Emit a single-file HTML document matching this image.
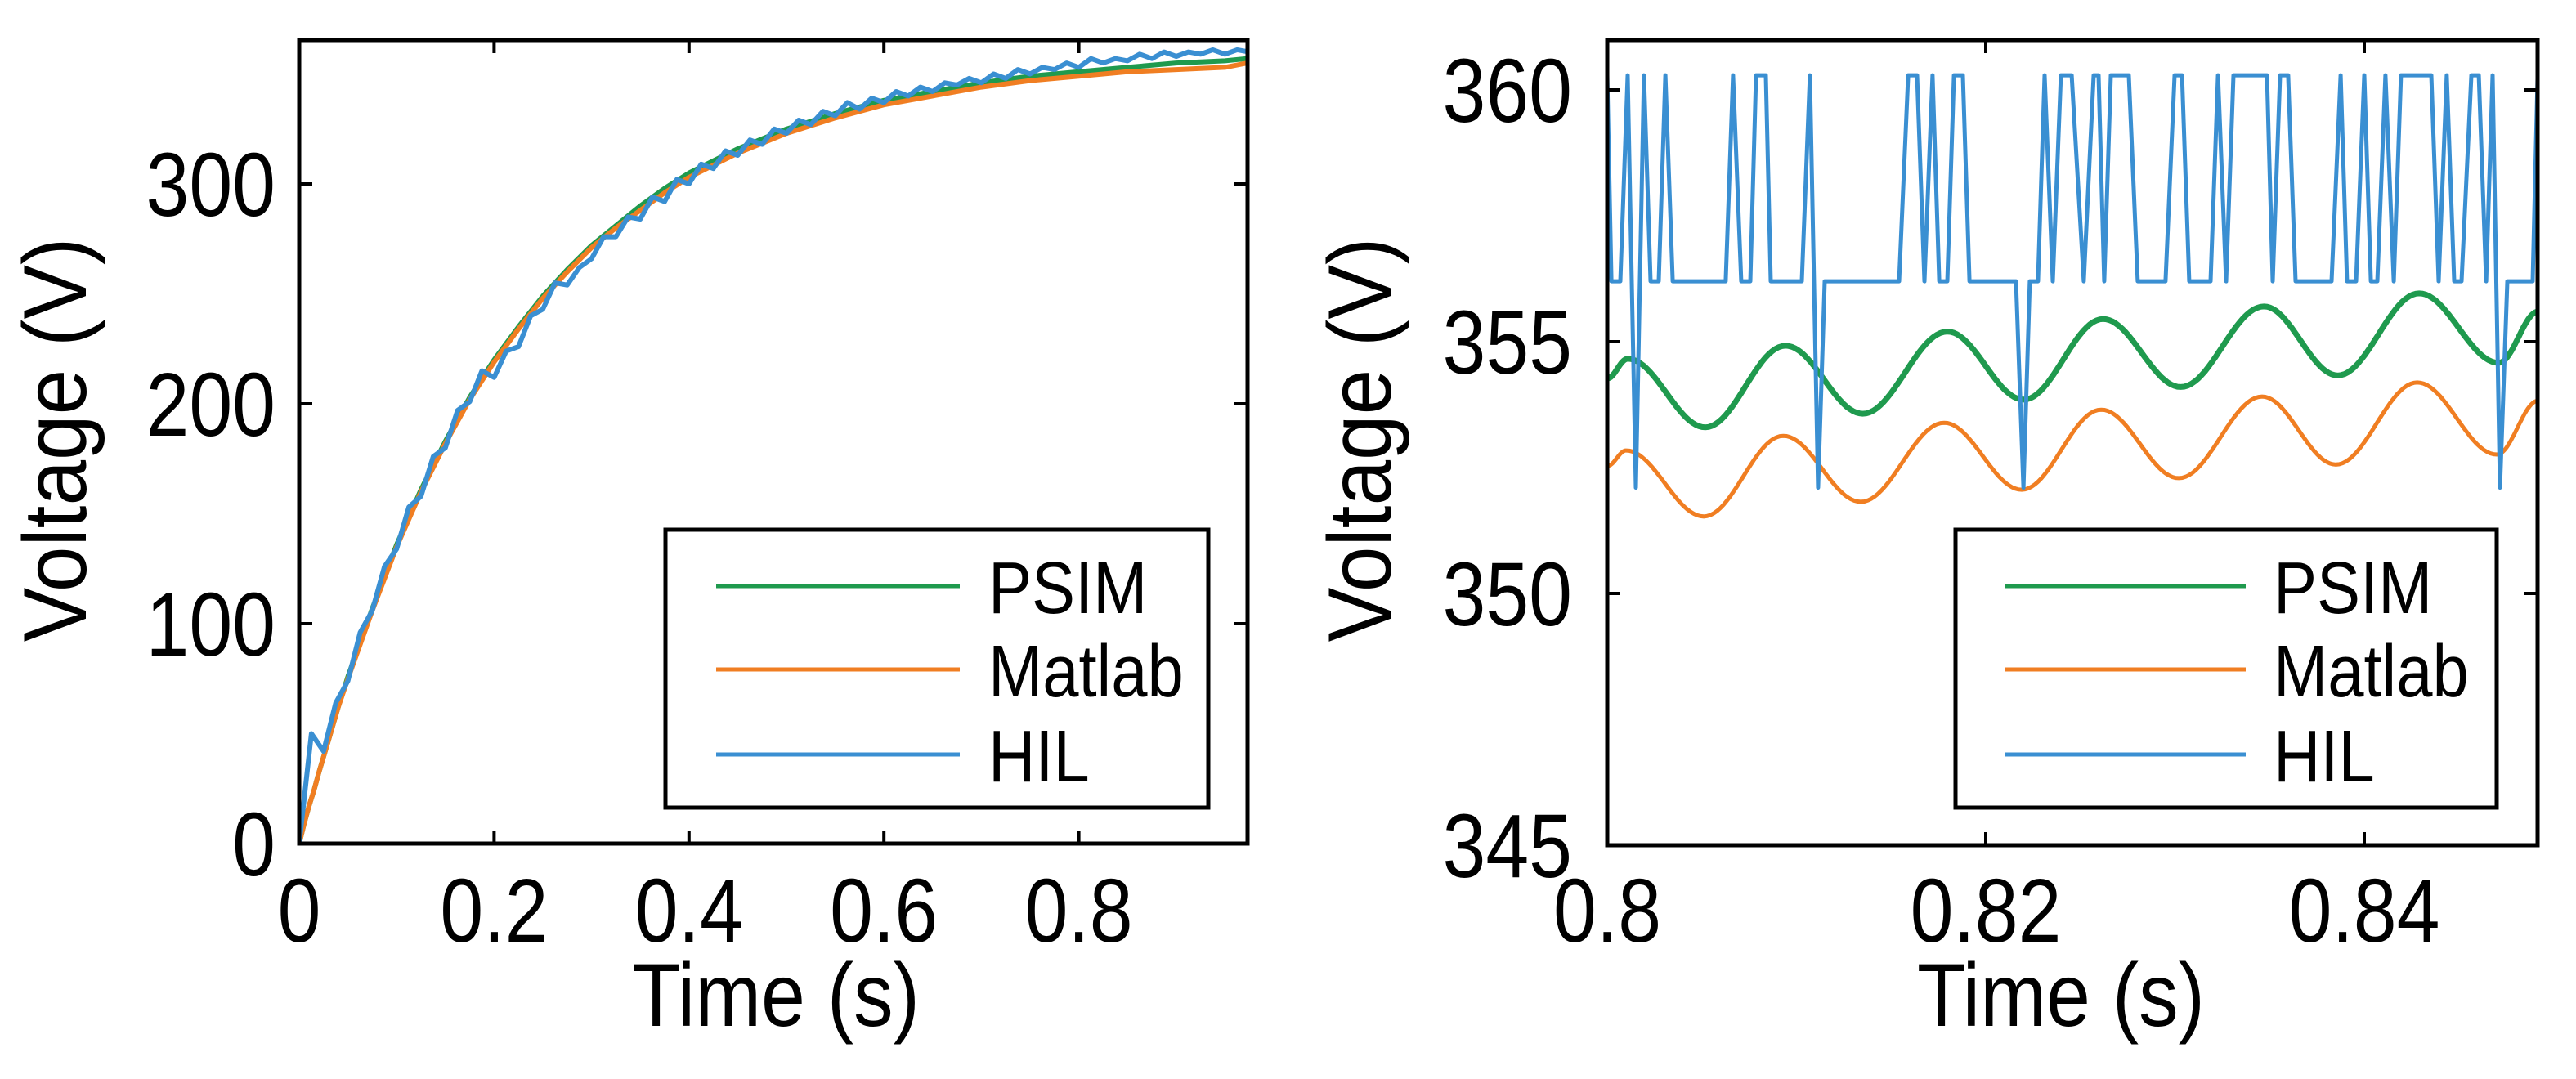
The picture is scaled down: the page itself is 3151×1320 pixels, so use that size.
<!DOCTYPE html>
<html><head><meta charset="utf-8"><style>
html,body{margin:0;padding:0;background:#fff;}
svg{display:block;}
text{font-family:"Liberation Sans",Arial,sans-serif;fill:#000;}
</style></head><body>
<svg id="fig" width="3151" height="1320" viewBox="0 0 3151 1320" xmlns="http://www.w3.org/2000/svg">
<g id="left"></g>
<g id="right"></g>
</svg>
<script>
// ---------- LEFT CHART DATA ----------
const leftTime = [0,0.005,0.01,0.015,0.02,0.03,0.04,0.05,0.075,0.1,0.125,0.15,0.175,0.2,0.225,0.25,0.275,0.3,0.325,0.35,0.375,0.4,0.45,0.5,0.55,0.6,0.65,0.7,0.75,0.8,0.85,0.9,0.95,0.973];
const leftPsim = [0,9,17,24,32,47,62,76,107,136,161,183,203,220,235,249,261,272,281,290,298,305,316,325,332,338,342,346,349,351,353,355,356,357];
const leftMatlab = [0,9,17,24,32,47,62,75,106,135,160,182,202,219,234,248,260,271,280,288,296,303,314,323,330,336,340,344,347,349,351,352,353,355];
const leftHilStep = 0.0125;
const leftHil = [0,50,42,64,74,96,106,126,134,153,158,176,180,197,201,215,212,224,226,240,243,255,254,262,266,276,276,285,284,294,292,302,300,309,307,315,313,320,318,325,323,329,327,333,331,337,334,339,337,342,340,344,342,346,345,348,346,350,348,352,350,353,352,355,353,357,355,357,356,359,357,360,358,360,359,361,359,361,360];
const leftXTicks = [0,0.2,0.4,0.6,0.8];
const leftXTickLabels = ["0","0.2","0.4","0.6","0.8"];
const leftYTicks = [0,100,200,300];
const leftYTickLabels = ["0","100","200","300"];

// ---------- RIGHT CHART DATA ----------
const psimTimeMs = [0,1.08,5.18,9.42,13.5,17.97,22.0,26.2,30.3,34.7,38.6,42.9,47.1,49.2];
const psimRight = [354.27,354.66,353.3,354.92,353.57,355.2,353.85,355.45,354.1,355.7,354.33,355.96,354.58,355.6];
const matlabTimeMs = [0,1.0,5.1,9.3,13.4,17.8,21.9,26.1,30.2,34.6,38.5,42.8,47.0,49.2];
const matlabRight = [352.53,352.84,351.53,353.13,351.82,353.39,352.06,353.65,352.29,353.91,352.56,354.19,352.76,353.83];
const hilTimeMs = [0,0.22,0.69,1.08,1.51,1.94,2.29,2.72,3.07,3.46,6.26,6.65,7.08,7.56,7.86,8.38,8.64,10.28,10.71,11.14,11.49,15.42,15.90,16.37,16.76,17.19,17.54,17.97,18.32,18.79,19.14,21.60,21.99,22.33,22.76,23.11,23.54,23.97,24.54,25.18,25.70,25.96,26.26,26.61,27.56,28.03,29.50,29.98,30.37,30.75,31.88,32.27,32.70,33.09,34.86,35.16,35.55,35.98,36.37,38.27,38.75,39.09,39.57,40.00,40.35,40.69,41.12,41.56,41.94,43.54,43.93,44.36,44.75,45.14,45.66,46.05,46.44,46.78,47.17,47.56,48.90,49.16];
const hilLevels = "HLLHDHLLHLLHLLHHLLHDLLHHLHLLHHLLDLLHLHHLHHLHHLLHHLLHLHHLHHLLHLLHLLHLHHLHLLHHLHDLLH";
const hilLevelValues = {H:360.29, L:356.2, D:352.1};
const rightXTicks = [0.8,0.82,0.84];
const rightXTickLabels = ["0.8","0.82","0.84"];
const rightYTicks = [345,350,355,360];
const rightYTickLabels = ["345","350","355","360"];

const NS = "http://www.w3.org/2000/svg";
const C_PSIM = "#1f9a4e", C_MAT = "#f07e22", C_HIL = "#3a8fd2";
const FS = 100;

function mk(parent, tag, attrs){
  const e = document.createElementNS(NS, tag);
  for (const k in attrs) e.setAttribute(k, attrs[k]);
  parent.appendChild(e);
  return e;
}

function drawAxes(g, o){
  const box = mk(g, "rect", {x:o.x0, y:o.y0, width:o.x1-o.x0, height:o.y1-o.y0, fill:"none", stroke:"#000", "stroke-width":5});
  
  
  o.xTicks.forEach((v,i)=>{
    const px = o.sx(v);
    const t1 = mk(g, "line", {x1:px, x2:px, y1:o.y1, y2:o.y1-16, stroke:"#000","stroke-width":4});
    
    
    const t2 = mk(g, "line", {x1:px, x2:px, y1:o.y0, y2:o.y0+16, stroke:"#000","stroke-width":4});
    
    
    const lb = mk(g, "text", {x:0, y:0, "font-size":FS, "text-anchor":"middle", transform:`translate(${px},1152) scale(0.95,1.1)`});
    lb.textContent = o.xLabels[i];
    
    
  });
  o.yTicks.forEach((v,i)=>{
    const py = o.sy(v);
    const t1 = mk(g, "line", {x1:o.x0, x2:o.x0+16, y1:py, y2:py, stroke:"#000","stroke-width":4});
    
    
    const t2 = mk(g, "line", {x1:o.x1, x2:o.x1-16, y1:py, y2:py, stroke:"#000","stroke-width":4});
    
    
    const lb = mk(g, "text", {x:0, y:0, "font-size":FS, "text-anchor":"end", transform:`translate(${o.labelRight},${py+39}) scale(0.95,1.1)`});
    lb.textContent = o.yLabels[i];
    
    
  });
  const xt = mk(g, "text", {x:0, y:0, "font-size":FS, "text-anchor":"middle", transform:`translate(${o.xTitleX},1255) scale(0.97,1.1)`});
  xt.textContent = "Time (s)";
  
  
  const yt = mk(g, "text", {x:0, y:0, "font-size":FS, "text-anchor":"middle", transform:`translate(${o.yTitleX},538) rotate(-90) scale(1,1.1)`});
  yt.textContent = "Voltage (V)";
  
  
}

function drawLegend(g, lx, ly, lw, lh, lineX1, lineX2, textX){
  const r = mk(g, "rect", {x:lx, y:ly, width:lw, height:lh, fill:"#fff", stroke:"#000","stroke-width":5});
  
  
  const items = [["PSIM",C_PSIM,717],["Matlab",C_MAT,819],["HIL",C_HIL,923]];
  items.forEach(it=>{
    const ln = mk(g, "line", {x1:lineX1, x2:lineX2, y1:it[2], y2:it[2], stroke:it[1], "stroke-width":5});
    
    
    const tx = mk(g, "text", {x:0, y:0, "font-size":82, transform:`translate(${textX},${it[2]+33}) scale(0.97,1.1)`});
    tx.textContent = it[0];
    
    
  });
}

function polyline(g, xs, ys, color, w, name, sx, sy){
  const pts = xs.map((x,i)=> sx(x).toFixed(1)+","+sy(ys[i]).toFixed(1)).join(" ");
  const p = mk(g, "polyline", {points:pts, fill:"none", stroke:color, "stroke-width":w, "stroke-linejoin":"round"});
  
  
  return p;
}

function smoothPath(g, xs, ys, color, w, name, sx, sy){
  let d = "";
  for (let i=0;i<xs.length-1;i++){
    const n = 24;
    for (let k=(i===0?0:1); k<=n; k++){
      const f = k/n, e = (1-Math.cos(Math.PI*f))/2;
      const x = xs[i] + (xs[i+1]-xs[i])*f;
      const y = ys[i] + (ys[i+1]-ys[i])*e;
      d += (d===""?"M":"L") + sx(x).toFixed(1) + "," + sy(y).toFixed(1);
    }
  }
  const p = mk(g, "path", {d:d, fill:"none", stroke:color, "stroke-width":w});
  
  
}

// ---------- LEFT ----------
(function(){
  const g = document.getElementById("left");
  const x0=366, x1=1526, y0=49, y1=1032;
  const sx = t => x0 + t*1192;
  const sy = v => y1 - v*2.69;
  const clip = mk(document.getElementById("fig"), "clipPath", {id:"clipL"});
  mk(clip, "rect", {x:x0, y:y0, width:x1-x0, height:y1-y0});
  const sg = mk(g, "g", {"clip-path":"url(#clipL)"});
  
  
  polyline(sg, leftTime, leftPsim, C_PSIM, 6, "psim-line", sx, sy);
  polyline(sg, leftTime, leftMatlab, C_MAT, 6, "matlab-line", sx, sy);
  polyline(sg, leftHil.map((v,i)=>i*leftHilStep), leftHil, C_HIL, 6, "hil-line", sx, sy);
  drawAxes(g, {x0,x1,y0,y1,sx,sy,xTicks:leftXTicks,xLabels:leftXTickLabels,yTicks:leftYTicks,yLabels:leftYTickLabels,labelRight:337,xTitleX:949,yTitleX:105});
  drawLegend(g, 814, 648, 664, 340, 876, 1174, 1209);
})();

// ---------- RIGHT ----------
(function(){
  const g = document.getElementById("right");
  const x0=1966, x1=3104, y0=49, y1=1034;
  const sx = t => x0 + (t-0.8)*23150;
  const sy = v => y1 - (v-345)*61.6;
  const clip = mk(document.getElementById("fig"), "clipPath", {id:"clipR"});
  mk(clip, "rect", {x:x0, y:y0, width:x1-x0, height:y1-y0});
  const sg = mk(g, "g", {"clip-path":"url(#clipR)"});
  
  
  smoothPath(sg, psimTimeMs.map(m=>0.8+m/1000), psimRight, C_PSIM, 7, "psim-line", sx, sy);
  smoothPath(sg, matlabTimeMs.map(m=>0.8+m/1000), matlabRight, C_MAT, 5, "matlab-line", sx, sy);
  const hv = hilTimeMs.map((m,i)=>hilLevelValues[hilLevels[i]]);
  polyline(sg, hilTimeMs.map(m=>0.8+m/1000), hv, C_HIL, 5, "hil-line", sx, sy);
  drawAxes(g, {x0,x1,y0,y1,sx,sy,xTicks:rightXTicks,xLabels:rightXTickLabels,yTicks:rightYTicks,yLabels:rightYTickLabels,labelRight:1923,xTitleX:2521,yTitleX:1701});
  drawLegend(g, 2392, 648, 662, 340, 2453, 2747, 2781);
})();
</script>
</body></html>
